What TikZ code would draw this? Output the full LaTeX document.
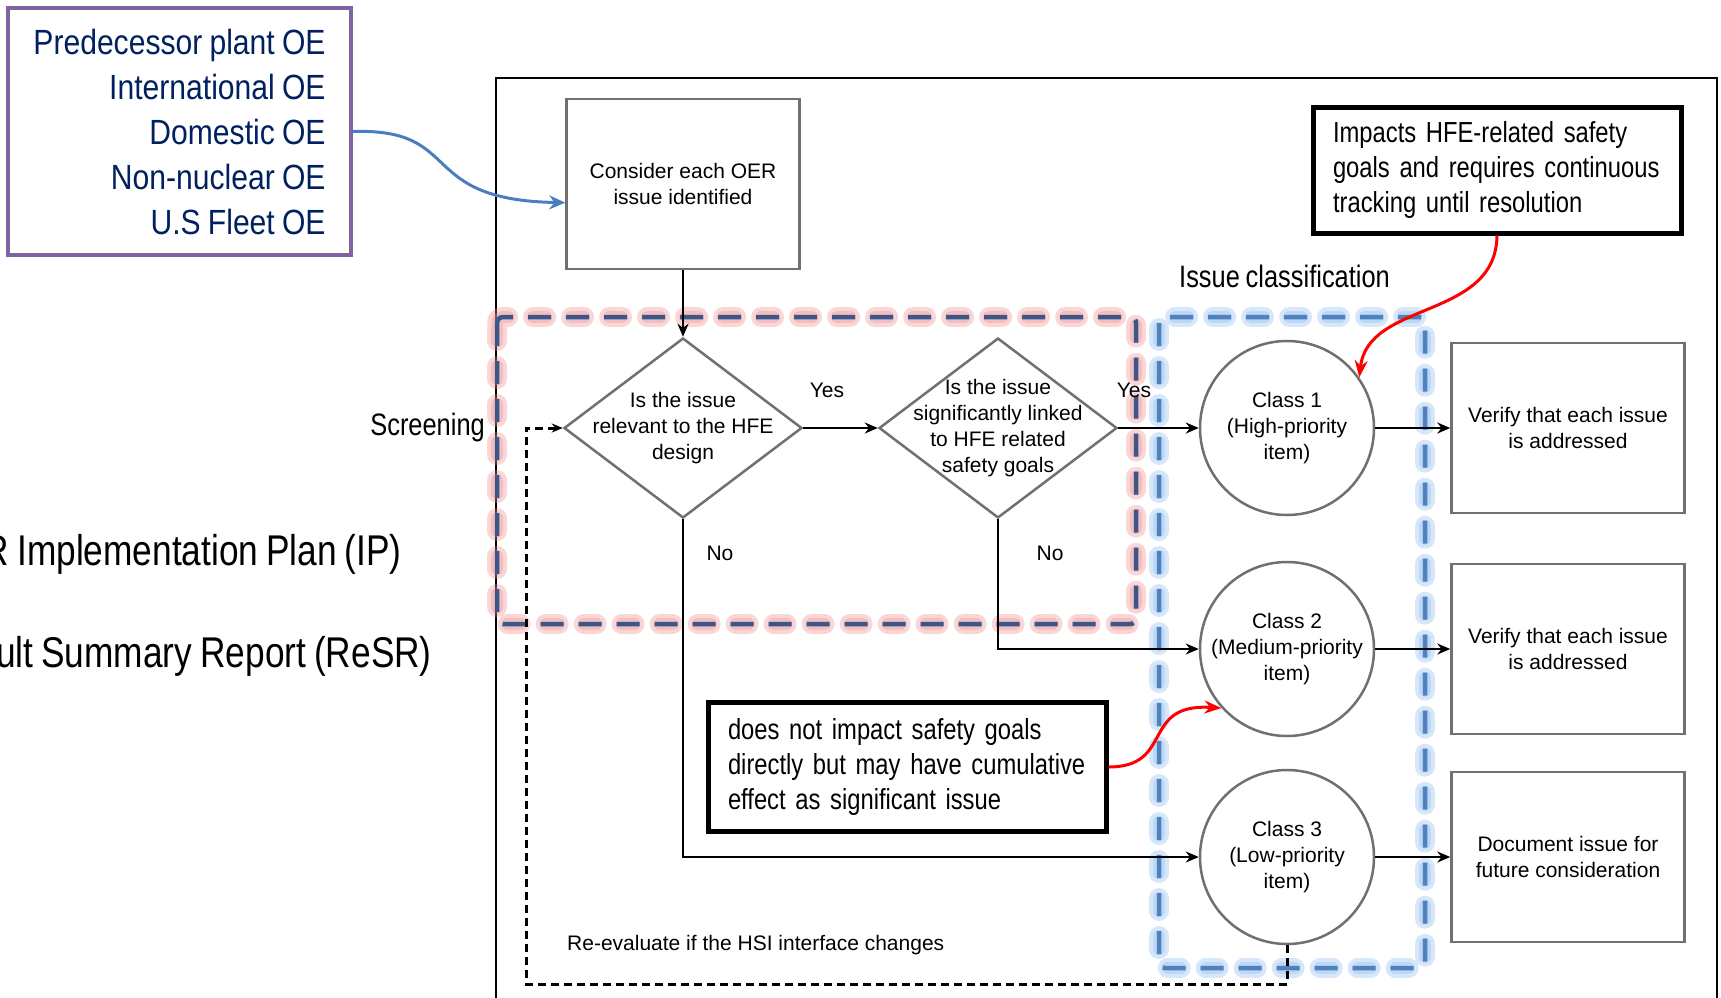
\documentclass[tikz,border=0pt]{standalone}
\usepackage{fontspec}
\setmainfont{Liberation Sans}
\newfontfamily\narrowfont{Liberation Sans}[FakeStretch=0.82, WordSpace=0.82]
\newfontfamily\oefont{Liberation Sans}[FakeStretch=0.86, WordSpace=0.86]
\usetikzlibrary{shapes.geometric, arrows.meta, positioning, calc}
\definecolor{oepurple}{RGB}{128, 100, 162}
\definecolor{oenavy}{RGB}{0, 32, 96}
\definecolor{flowgray}{RGB}{112, 112, 112}
\definecolor{linkblue}{RGB}{74, 126, 193}
\definecolor{scrline}{RGB}{56, 87, 138}
\definecolor{scrglow}{RGB}{238, 140, 140}
\definecolor{clsline}{RGB}{79, 129, 189}
\definecolor{clsglow}{RGB}{140, 185, 240}

\begin{document}
\begin{tikzpicture}[x=1pt, y=-1pt,
  txt/.style={inner sep=0pt, align=center, font=\fontsize{21}{26}\selectfont},
  flow/.style={txt, draw=flowgray, line width=2.5pt, fill=white},
  actbox/.style={flow, rectangle, minimum width=233pt, minimum height=170pt},
  query/.style={flow, diamond, minimum width=238pt, minimum height=180pt},
  cls/.style={flow, circle, minimum size=174pt},
  oebox/.style={rectangle, draw=oepurple, line width=4pt, text=oenavy, minimum width=343pt,
                minimum height=247pt, align=right, inner sep=0pt,
                font=\oefont\fontsize{35}{45}\selectfont},
  note/.style={rectangle, draw=black, fill=white, line width=5pt, align=left, inner sep=0pt,
               font=\narrowfont\fontsize{29}{35}\selectfont},
  big/.style={inner sep=0pt, font=\narrowfont\fontsize{31}{37}\selectfont},
  side/.style={inner sep=0pt, font=\narrowfont\fontsize{43}{50}\selectfont},
  arr/.style={-{Stealth[length=13pt, width=11pt]}, line width=2.5pt},
  back/.style={-{Stealth[length=11pt, width=9pt]}, line width=3pt, dash pattern=on 8pt off 5pt},
  redarr/.style={-{Stealth[length=17pt, width=13pt]}, line width=3pt, red},
  halo/.style={draw=#1, line width=20pt, line cap=round, dash pattern=on 13pt off 25pt,
               dash phase=33pt, opacity=0.35, rounded corners=6pt},
  region/.style={draw=#1, line width=4.5pt, dash pattern=on 23pt off 15pt, rounded corners=6pt}
]
  \useasboundingbox (0,0) rectangle (1721,997);
  \draw[line width=2pt] (496,1012) -- (496,78) -- (1717,78) -- (1717,1012);

  \draw[halo=scrglow] (497,317) rectangle (1136,624);
  \draw[halo=scrglow, line width=12pt] (497,317) rectangle (1136,624);
  \draw[region=scrline] (497,317) rectangle (1136,624);
  \draw[halo=clsglow] (1159,317) rectangle (1425,968);
  \draw[halo=clsglow, line width=12pt] (1159,317) rectangle (1425,968);
  \draw[region=clsline] (1159,317) rectangle (1425,968);

  \node[oebox] (oe) at (179.5,131.5) {Predecessor plant OE\\International OE\\Domestic OE\\Non-nuclear OE\\U.S Fleet OE};
  \node[actbox] (oer) at (683,184) {Consider each OER\\issue identified};
  \node[query] (rel) at (683,428) {};
  \node[txt] (rel-q) at (rel) {Is the issue\\relevant to the HFE\\design};
  \node[query] (sig) at (998,428) {};
  \node[txt] (sig-q) at (sig) {Is the issue\\significantly linked\\to HFE related\\safety goals};
  \node[cls] (cls1) at (1287,428) {Class 1\\(High-priority\\item)};
  \node[cls] (cls2) at (1287,649) {Class 2\\(Medium-priority\\item)};
  \node[cls] (cls3) at (1287,857) {Class 3\\(Low-priority\\item)};
  \node[actbox, right=75pt of cls1] (act1) {Verify that each issue\\is addressed};
  \node[actbox, right=75pt of cls2] (act2) {Verify that each issue\\is addressed};
  \node[actbox, right=75pt of cls3] (act3) {Document issue for\\future consideration};

  \node[txt] (yes1) at (827,390) {Yes};
  \node[txt] (yes2) at (1134,390) {Yes};
  \node[txt] (no1) at (720,553) {No};
  \node[txt] (no2) at (1050,553) {No};
  \node[txt, anchor=base west] (reeval) at (567,950) {Re-evaluate if the HSI interface changes};
  \node[big, anchor=base east] (screen) at (485,435) {Screening};
  \node[big, anchor=base west] (classif) at (1179,287) {Issue classification};
  \node[side, anchor=base east] (ip) at (402,565) {R Implementation Plan (IP)};
  \node[side, anchor=base east] (resr) at (432,667) {ult Summary Report (ReSR)};

  \node[note, minimum width=368pt, minimum height=126pt, text width=328pt] (note1) at (1497,170)
    {Impacts HFE-related safety\\goals and requires continuous\\tracking until resolution};
  \node[note, minimum width=398pt, minimum height=129pt, text width=358pt] (note2) at (907,767)
    {does not impact safety goals\\directly but may have cumulative\\effect as significant issue};

  \draw[arr] (oer) -- (rel);
  \draw[arr] (rel) -- (sig);
  \draw[arr] (sig) -- (cls1);
  \draw[arr] (sig.south) |- (cls2);
  \draw[arr] (rel.south) |- (cls3);
  \draw[arr] (cls1) -- (act1);
  \draw[arr] (cls2) -- (act2);
  \draw[arr] (cls3) -- (act3);
  \coordinate (fbk) at (526,984);
  \draw[back] (cls3.south) |- (fbk) |- (rel.west);

  \draw[-{Stealth[length=16pt, width=14pt]}, line width=3pt, linkblue]
    (oe.east) .. controls (465,128) and (415,200) .. (oer.189);
  \draw[redarr] (note1.south) .. controls (1496,320) and (1368,300) .. (cls1.35);
  \draw[redarr] (note2.east) .. controls (1175,767) and (1140,703) .. (cls2.222);
\end{tikzpicture}
\end{document}
